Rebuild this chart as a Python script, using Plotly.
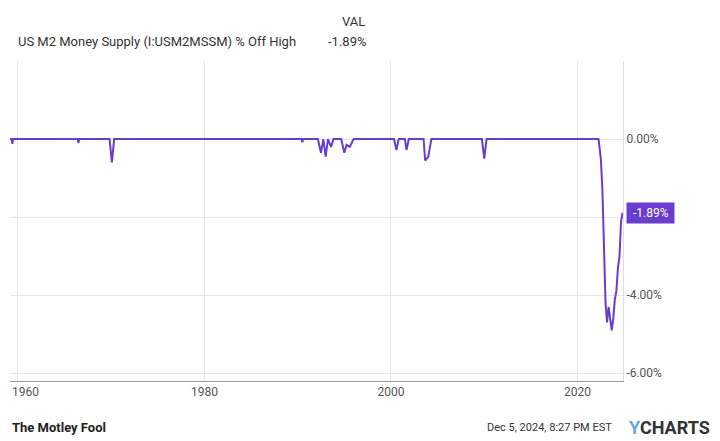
import plotly.graph_objects as go

dates = ["1959-01-01","1959-05-01","1959-06-01","1959-07-01","1966-06-01","1966-07-01","1966-08-01",
         "1969-11-01","1970-02-01","1970-05-01","1990-06-01","1990-07-01","1990-08-01",
         "1992-03-01","1992-07-01","1992-10-01","1993-01-01","1993-04-01","1993-08-01","1993-11-01",
         "1994-09-01","1995-01-01","1995-04-01","1995-08-01","1996-01-01",
         "2000-05-01","2000-08-01","2000-11-01","2001-07-01","2001-09-01","2001-12-01",
         "2003-07-01","2003-09-01","2004-01-01","2004-05-01",
         "2009-10-01","2010-01-01","2010-04-01",
         "2022-04-01","2022-07-01","2022-09-01","2022-11-01","2023-01-01","2023-03-01",
         "2023-05-01","2023-07-01","2023-09-01","2023-11-01","2024-01-01","2024-03-01",
         "2024-05-01","2024-07-01","2024-09-01","2024-11-01"]
values = [0,0,-0.12,0,0,-0.1,0,
          0,-0.6,0,0,-0.08,0,
          0,-0.35,0,-0.45,0,-0.2,0,
          0,-0.35,-0.15,-0.2,0,
          0,-0.28,0,0,-0.28,0,
          0,-0.55,-0.45,0,
          0,-0.5,0,
          0,-0.5,-1.3,-2.6,-4.2,-4.7,
          -4.3,-4.6,-4.9,-4.6,-4.1,-3.9,
          -3.3,-3.0,-2.1,-1.89]
ytickvals = [0,-2,-4,-6]
yticktext = ["0.00%","","-4.00%","-6.00%"]
xtickvals = ["1960-01-01","1980-01-01","2000-01-01","2020-01-01"]
xticktext = ["","1980","2000","2020"]
first_year_label = "1960"
purple = "#6a3dcc"

fig = go.Figure(go.Scatter(x=dates, y=values, mode="lines", line=dict(color=purple, width=2), hoverinfo="skip"))
fig.update_layout(
    width=720, height=441, margin=dict(l=2, r=105, t=53, b=68, autoexpand=False),
    paper_bgcolor="white", plot_bgcolor="white", showlegend=False,
    font=dict(family="Roboto", size=12, color="#333"),
    xaxis=dict(range=["1959-03-01","2024-11-15"], tickvals=xtickvals, ticktext=xticktext,
               showgrid=True, gridcolor="#e6e6e6", zeroline=False, showline=True, linecolor="#999",
               ticks="", tickfont=dict(color="#555")),
    yaxis=dict(range=[-6.2, 2.0], side="right", tickvals=ytickvals, ticktext=yticktext,
               showgrid=True, gridcolor="#e6e6e6", zeroline=False, showline=True, linecolor="#ddd",
               ticks="", tickfont=dict(color="#555")),
)
fig.add_annotation(xref="paper", yref="paper", x=0.0, y=-0.035, xanchor="left", yanchor="middle",
                   text=first_year_label, showarrow=False, font=dict(size=12, color="#555"))
fig.add_annotation(xref="paper", yref="paper", x=0.01, y=1.0625, xanchor="left", yanchor="middle",
                   text="US M2 Money Supply (I:USM2MSSM) % Off High", showarrow=False, font=dict(size=13, color="#333"))
fig.add_annotation(xref="paper", yref="paper", x=0.515, y=1.0625, xanchor="left", yanchor="middle",
                   text="-1.89%", showarrow=False, font=dict(size=13, color="#333"))
fig.add_annotation(xref="paper", yref="paper", x=0.538, y=1.125, xanchor="left", yanchor="middle",
                   text="VAL", showarrow=False, font=dict(size=13, color="#333"))
fig.add_annotation(xref="paper", x=1.005, y=-1.89, xanchor="left", yanchor="middle",
                   text=" -1.89% ", showarrow=False, bgcolor=purple, font=dict(size=12, color="white"), borderpad=3)
fig.add_annotation(xref="paper", yref="paper", x=0.0, y=-0.145, xanchor="left", yanchor="middle",
                   text="<b>The Motley Fool</b>", showarrow=False, font=dict(size=13, color="#222"))
fig.add_annotation(xref="paper", yref="paper", x=0.985, y=-0.145, xanchor="right", yanchor="middle",
                   text="Dec 5, 2024, 8:27 PM EST", showarrow=False, font=dict(size=11, color="#333"))
fig.add_annotation(xref="paper", yref="paper", x=1.145, y=-0.145, xanchor="right", yanchor="middle",
                   text="<b><span style='color:#6aa7e0'>Y</span>CHARTS</b>", showarrow=False, font=dict(size=18, color="#333"))
fig.write_html("out.html")
